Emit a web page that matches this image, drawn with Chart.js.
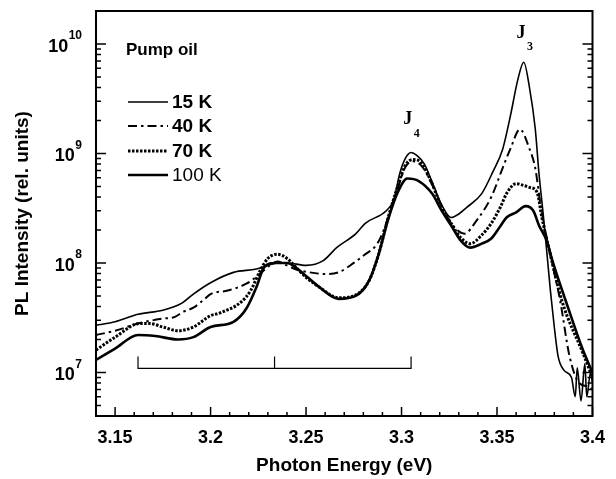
<!DOCTYPE html>
<html>
<head>
<meta charset="utf-8">
<script src="https://cdn.jsdelivr.net/npm/chart.js@4.4.1/dist/chart.umd.min.js"></script>
<style>
  body { margin: 0; background: #fff; }
</style>
</head>
<body>
<canvas id="plChart" width="616" height="479"></canvas>
<script>
// PL spectra, pump oil sample (energy in eV, intensity in rel. units)
const e15K = [3.140, 3.150, 3.162, 3.175, 3.185, 3.191, 3.200, 3.212, 3.224, 3.230, 3.235, 3.240, 3.250, 3.259, 3.266, 3.276, 3.281, 3.292, 3.296, 3.299, 3.302, 3.305, 3.308, 3.312, 3.316, 3.321, 3.326, 3.330, 3.334, 3.342, 3.348, 3.353, 3.357, 3.361, 3.364, 3.367, 3.370, 3.372, 3.374, 3.376, 3.378, 3.380, 3.382, 3.385, 3.389, 3.391, 3.392, 3.394, 3.396, 3.397, 3.399, 3.400];
const pl15K = [2.7e7, 2.9e7, 3.4e7, 3.7e7, 4.3e7, 5.2e7, 6.6e7, 8.2e7, 8.8e7, 9.5e7, 1.0e8, 1.0e8, 9.5e7, 1.05e8, 1.38e8, 1.84e8, 2.3e8, 3.0e8, 3.8e8, 6.5e8, 9.0e8, 1.02e9, 9.6e8, 8.0e8, 5.5e8, 3.4e8, 2.6e8, 2.8e8, 3.2e8, 4.3e8, 6.9e8, 1.1e9, 2.2e9, 4.8e9, 6.8e9, 4.0e9, 1.7e9, 6.5e8, 3.0e8, 1.3e8, 5.5e7, 2.6e7, 1.4e7, 1.05e7, 9e6, 6e6, 1.1e7, 5.5e6, 1.2e7, 6e6, 1.0e7, 8e6];

const e40K = [3.140, 3.150, 3.162, 3.175, 3.181, 3.186, 3.191, 3.197, 3.200, 3.209, 3.219, 3.226, 3.231, 3.235, 3.240, 3.245, 3.252, 3.261, 3.267, 3.275, 3.281, 3.286, 3.289, 3.293, 3.298, 3.302, 3.306, 3.311, 3.316, 3.321, 3.326, 3.333, 3.339, 3.347, 3.353, 3.357, 3.362, 3.367, 3.370, 3.373, 3.377, 3.383, 3.388, 3.393, 3.398, 3.400];
const pl40K = [2.2e7, 2.4e7, 2.8e7, 3.1e7, 3.2e7, 3.6e7, 3.9e7, 4.7e7, 5.2e7, 5.6e7, 6.5e7, 8.0e7, 9.5e7, 1.03e8, 9.5e7, 8.7e7, 8.2e7, 7.9e7, 8.2e7, 1.0e8, 1.2e8, 1.4e8, 1.7e8, 2.6e8, 4.8e8, 7.5e8, 8.5e8, 7.5e8, 5.2e8, 3.3e8, 2.3e8, 1.85e8, 2.4e8, 4.0e8, 7.4e8, 1.1e9, 1.66e9, 1.1e9, 7.4e8, 3.2e8, 1.4e8, 4.6e7, 1.4e7, 8e6, 7.4e6, 7e6];

const e70K = [3.140, 3.150, 3.163, 3.168, 3.175, 3.183, 3.191, 3.200, 3.205, 3.216, 3.221, 3.226, 3.230, 3.235, 3.240, 3.245, 3.250, 3.257, 3.267, 3.276, 3.283, 3.288, 3.293, 3.298, 3.302, 3.306, 3.310, 3.316, 3.321, 3.326, 3.331, 3.336, 3.342, 3.347, 3.352, 3.355, 3.360, 3.364, 3.367, 3.371, 3.3735, 3.377, 3.384, 3.395, 3.400];
const pl70K = [1.6e7, 2.1e7, 2.8e7, 2.8e7, 2.6e7, 2.4e7, 2.6e7, 3.3e7, 3.5e7, 4.4e7, 5.6e7, 8.5e7, 1.1e8, 1.2e8, 1.1e8, 9.0e7, 7.4e7, 6.0e7, 4.8e7, 5.1e7, 6.9e7, 1.2e8, 2.6e8, 5.0e8, 7.8e8, 8.8e8, 8.3e8, 5.3e8, 3.2e8, 2.3e8, 1.7e8, 1.5e8, 1.8e8, 2.3e8, 3.3e8, 4.3e8, 5.3e8, 5.1e8, 4.9e8, 4.4e8, 2.6e8, 1.4e8, 4.5e7, 1.5e7, 9e6];

const e100K = [3.140, 3.150, 3.162, 3.171, 3.183, 3.191, 3.200, 3.212, 3.219, 3.224, 3.228, 3.234, 3.240, 3.245, 3.250, 3.257, 3.267, 3.276, 3.283, 3.288, 3.293, 3.298, 3.303, 3.309, 3.316, 3.321, 3.326, 3.331, 3.336, 3.342, 3.347, 3.352, 3.355, 3.360, 3.365, 3.369, 3.372, 3.376, 3.379, 3.387, 3.395, 3.400];
const pl100K = [1.3e7, 1.65e7, 2.2e7, 2.15e7, 2.0e7, 2.1e7, 2.6e7, 2.9e7, 3.9e7, 6.0e7, 9.1e7, 1.0e8, 1.0e8, 9.0e7, 7.6e7, 6.0e7, 4.7e7, 5.0e7, 6.9e7, 1.2e8, 2.5e8, 4.4e8, 5.9e8, 5.6e8, 4.3e8, 3.0e8, 2.2e8, 1.6e8, 1.38e8, 1.5e8, 1.67e8, 2.2e8, 2.6e8, 2.9e8, 3.3e8, 3.0e8, 2.2e8, 1.6e8, 1.05e8, 4e7, 1.6e7, 1.0e7];

// phonon-replica bracket under the low-energy side
const bracketE = [3.162, 3.162, 3.2335, 3.2335, 3.2335, 3.305, 3.305];
const bracketI = [1.4e7, 1.09e7, 1.09e7, 1.4e7, 1.09e7, 1.09e7, 1.4e7];

const yDecades = [7, 8, 9, 10];
const seriesLabels = ['15 K', '40 K', '70 K', '100 K'];

const ink = '#000';
const sans = '"Liberation Sans", Arial, sans-serif';
const serif = '"Liberation Serif", "Times New Roman", serif';

function pts(xs, ys) {
  return xs.map((x, i) => ({ x: x, y: ys[i] }));
}

const styles = [
  { width: 1.6, dash: [] },            // 15 K
  { width: 2, dash: [9, 4, 2.5, 4] },   // 40 K
  { width: 3, dash: [2.5, 1.5] },      // 70 K
  { width: 2.6, dash: [] }             // 100 K
];
const allE = [e15K, e40K, e70K, e100K];
const allI = [pl15K, pl40K, pl70K, pl100K];

const datasets = seriesLabels.map((lab, k) => ({
  label: lab,
  data: pts(allE[k], allI[k]),
  borderColor: ink,
  borderWidth: styles[k].width,
  borderDash: styles[k].dash,
  pointRadius: 0,
  fill: false,
  cubicInterpolationMode: 'monotone'
}));
datasets.push({
  label: 'bracket',
  data: pts(bracketE, bracketI),
  borderColor: ink,
  borderWidth: 1.2,
  pointRadius: 0,
  tension: 0,
  fill: false
});

// frame, inward ticks, superscript labels, legend and peak labels
const decorations = {
  id: 'decorations',
  afterDatasetsDraw(chart) {
    const { ctx, chartArea: a, scales: { x, y } } = chart;
    ctx.save();
    ctx.strokeStyle = ink;
    ctx.fillStyle = ink;
    ctx.setLineDash([]);

    // frame
    ctx.lineWidth = 2;
    ctx.strokeRect(a.left, a.top, a.right - a.left, a.bottom - a.top);

    // x ticks every 0.01, major every 0.05
    ctx.lineWidth = 1.5;
    for (let i = 314; i <= 340; i++) {
      const px = x.getPixelForValue(i / 100);
      const len = i % 5 === 0 ? 9 : 4;
      ctx.beginPath();
      ctx.moveTo(px, a.bottom);
      ctx.lineTo(px, a.bottom - len);
      ctx.stroke();
    }

    // y ticks on both sides, log minors
    for (let n = 6; n <= 10; n++) {
      for (let k = 1; k <= 9; k++) {
        const v = k * Math.pow(10, n);
        if (v < y.min || v > y.max) continue;
        const py = y.getPixelForValue(v);
        const len = k === 1 ? 10 : 5;
        ctx.beginPath();
        ctx.moveTo(a.left, py);
        ctx.lineTo(a.left + len, py);
        ctx.moveTo(a.right, py);
        ctx.lineTo(a.right - len, py);
        ctx.stroke();
      }
    }

    // y labels 10^n
    ctx.textBaseline = 'middle';
    yDecades.forEach(n => {
      const py = y.getPixelForValue(Math.pow(10, n));
      ctx.font = 'bold 12px ' + sans;
      ctx.textAlign = 'right';
      const exp = String(n);
      const ew = ctx.measureText(exp).width;
      ctx.fillText(exp, 82, py - 8);
      ctx.font = 'bold 18px ' + sans;
      ctx.fillText('10', 82 - ew - 0.5, py + 3);
    });

    // sample name and legend
    ctx.textAlign = 'left';
    ctx.font = 'bold 17px ' + sans;
    ctx.fillText('Pump oil', 126, 50);
    const legendY = [102, 126, 151, 175];
    seriesLabels.forEach((lab, k) => {
      ctx.lineWidth = styles[k].width;
      ctx.setLineDash(styles[k].dash);
      ctx.beginPath();
      ctx.moveTo(128, legendY[k]);
      ctx.lineTo(168, legendY[k]);
      ctx.stroke();
      ctx.setLineDash([]);
      ctx.font = (k === 3 ? '' : 'bold ') + '19px ' + sans;
      ctx.fillText(lab, 172, legendY[k] + 1);
    });

    // peak labels
    const peaks = [['J', '3', 3.3625, 1.26e10], ['J', '4', 3.3032, 2.03e9]];
    peaks.forEach(p => {
      const px = x.getPixelForValue(p[2]);
      const py = y.getPixelForValue(p[3]);
      ctx.textAlign = 'center';
      ctx.font = 'bold 18px ' + serif;
      ctx.fillText(p[0], px, py);
      ctx.textAlign = 'left';
      ctx.font = 'bold 12px ' + serif;
      ctx.fillText(p[1], px + 6, py + 14);
    });
    ctx.restore();
  }
};

const ctx = document.getElementById('plChart').getContext('2d');
const plChart = new Chart(ctx, {
  type: 'line',
  data: { datasets: datasets },
  options: {
    responsive: false,
    animation: false,
    layout: { padding: { top: 11, right: 14, left: 0, bottom: 0 } },
    plugins: {
      legend: { display: false },
      tooltip: { enabled: false }
    },
    scales: {
      x: {
        type: 'linear',
        min: 3.14,
        max: 3.40,
        grid: { display: false, drawTicks: false },
        border: { display: false },
        ticks: {
          stepSize: 0.05,
          includeBounds: false,
          maxRotation: 0,
          padding: 11,
          color: ink,
          font: { family: sans, size: 18, weight: 'bold' },
          callback: v => String(+v.toFixed(2))
        },
        title: {
          display: true,
          text: 'Photon Energy (eV)',
          color: ink,
          font: { family: sans, size: 19, weight: 'bold' },
          padding: { top: 0, bottom: 2 }
        },
        afterFit(s) { s.height = 63; }
      },
      y: {
        type: 'logarithmic',
        min: 4e6,
        max: 2e10,
        grid: { display: false, drawTicks: false },
        border: { display: false },
        ticks: { callback: () => '' }, // drawn with superscripts in the plugin
        title: {
          display: true,
          text: 'PL Intensity (rel. units)',
          color: ink,
          font: { family: sans, size: 19, weight: 'bold' },
          padding: { top: 11, bottom: 0 }
        },
        afterFit(s) { s.width = 96; }
      }
    }
  },
  plugins: [decorations]
});
</script>
</body>
</html>
